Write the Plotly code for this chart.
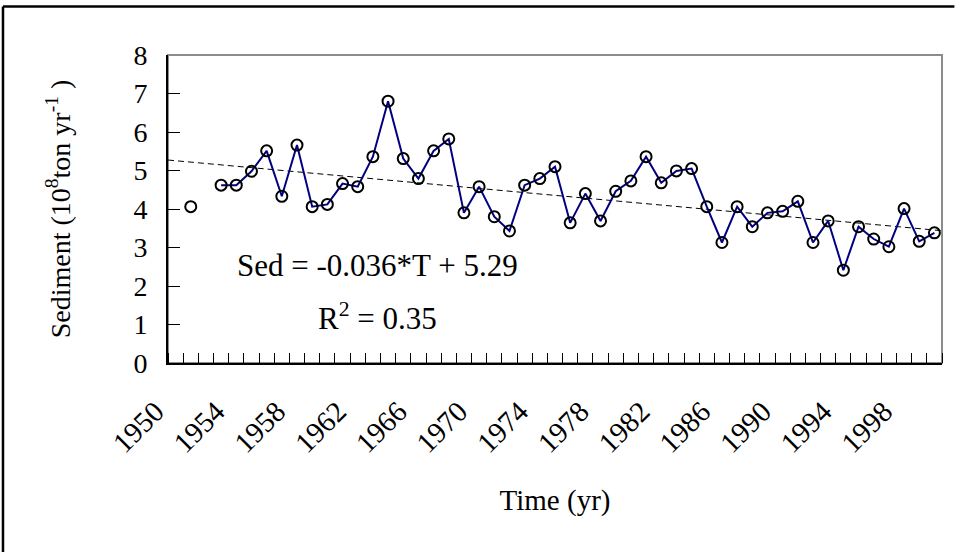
import plotly.graph_objects as go

# ---- data ----
categories = list(range(1950, 2001))          # category axis: 1950 ... 2000
years = list(range(1951, 2001))
sediment = [4.06, None, 4.62, 4.62, 4.98, 5.51, 4.33, 5.66, 4.06, 4.12,
            4.66, 4.58, 5.36, 6.80, 5.31, 4.79, 5.51, 5.82, 3.90, 4.58,
            3.80, 3.43, 4.62, 4.79, 5.10, 3.64, 4.40, 3.69, 4.46, 4.73,
            5.36, 4.68, 4.99, 5.05, 4.06, 3.13, 4.06, 3.54, 3.90, 3.94,
            4.20, 3.13, 3.69, 2.41, 3.54, 3.22, 3.02, 4.01, 3.16, 3.38]
tick_labels = [str(y) for y in range(1950, 2000, 4)]
slope = -0.036
intercept = 5.29
equation_text = "Sed = -0.036*T + 5.29"
r2_text = "R<sup>2</sup> = 0.35"

FONT = "Liberation Serif, Times New Roman, serif"

x_lo = categories[0] - 0.5
x_hi = categories[-1] + 0.5
trend_x = [x_lo, x_hi]
trend_y = [intercept + slope * (x - (categories[0] - 1)) for x in trend_x]

fig = go.Figure()
fig.add_trace(go.Scatter(
    x=trend_x, y=trend_y, mode="lines",
    line=dict(color="black", width=1, dash="6px,4px"),
    showlegend=False, hoverinfo="skip"))
fig.add_trace(go.Scatter(
    x=years, y=sediment, mode="lines+markers", connectgaps=False,
    line=dict(color="#000080", width=2),
    marker=dict(symbol="circle-open", size=11, color="black",
                line=dict(width=2, color="black")),
    showlegend=False))

fig.add_annotation(x=1963.3, y=2.53, xref="x", yref="y", text=equation_text,
                   showarrow=False, font=dict(family=FONT, size=31, color="black"))
fig.add_annotation(x=1963.3, y=1.20, xref="x", yref="y", text=r2_text,
                   showarrow=False, font=dict(family=FONT, size=31, color="black"))

# plot-area border (grey)
fig.add_shape(type="rect", xref="paper", yref="paper", x0=0, x1=1, y0=0, y1=1,
              line=dict(color="#8c8c8c", width=2), layer="below")
# chart-area border: only top and left edges are inside the picture
fig.add_shape(type="line", xref="paper", yref="paper",
              x0=-0.2132, x1=1.016, y0=1.1575, y1=1.1575,
              line=dict(color="black", width=2.5), layer="below")
fig.add_shape(type="line", xref="paper", yref="paper",
              x0=-0.2132, x1=-0.2132, y0=-0.62, y1=1.1575,
              line=dict(color="black", width=2.5), layer="below")

fig.update_xaxes(
    range=[x_lo, x_hi],
    tickmode="array", tickvals=list(range(1950, 2000, 4)), ticktext=tick_labels,
    tickangle=-45, ticks="",
    tickfont=dict(family=FONT, size=29, color="black"),
    ticklabelstandoff=18, ticklabelshift=-20,
    showline=True, linecolor="black", linewidth=2,
    showgrid=False, zeroline=False,
    minor=dict(tick0=0.5, dtick=1, ticks="inside", ticklen=10,
               tickwidth=1, tickcolor="black", showgrid=False),
    title=dict(text="Time (yr)", font=dict(family=FONT, size=29, color="black"),
               standoff=32),
)
fig.update_yaxes(
    range=[0, 8], tickmode="linear", tick0=0, dtick=1,
    ticks="inside", ticklen=12, tickwidth=1, tickcolor="black",
    tickfont=dict(family=FONT, size=28, color="black"),
    ticklabelstandoff=13,
    showline=True, linecolor="black", linewidth=2,
    showgrid=False, zeroline=False,
    title=dict(text="Sediment (10<sup>8</sup>ton yr<sup>-1</sup> )",
               font=dict(family=FONT, size=28, color="black"), standoff=55),
)
fig.update_layout(
    width=956, height=552,
    margin=dict(l=168, r=14, t=55, b=189),
    paper_bgcolor="white", plot_bgcolor="white",
    font=dict(family=FONT, color="black"),
)
fig.write_html("out.html")
